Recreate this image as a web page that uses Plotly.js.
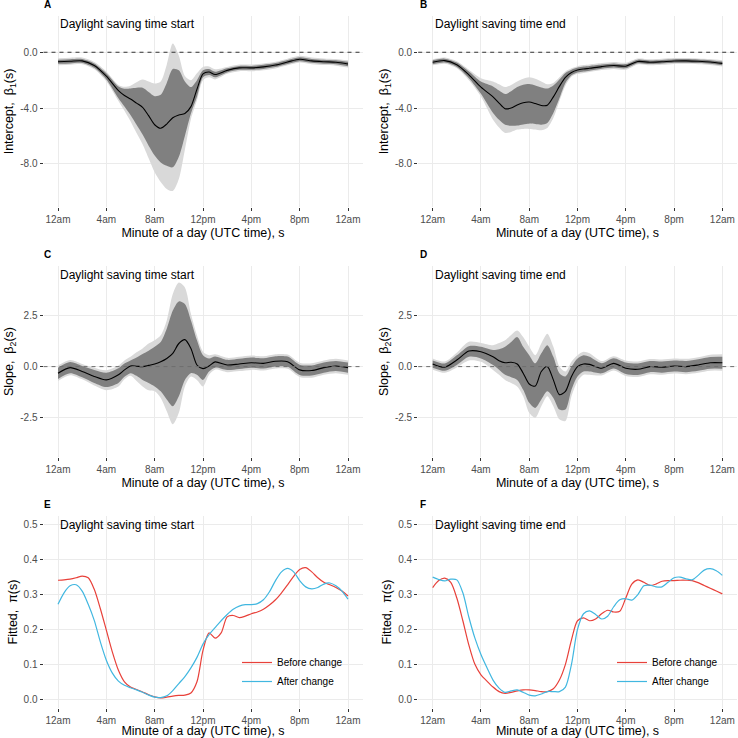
<!DOCTYPE html>
<html>
<head>
<meta charset="utf-8">
<script src="https://cdn.plot.ly/plotly-3.0.1.min.js"></script>
<style>
	html, body { margin: 0; padding: 0; background: #fff; }
	#plot { width: 738px; height: 738px; }
</style>
</head>
<body>
<div id="plot"></div>
<script>
// hour of day for the coefficient panels (A-D)
var HOURS = [0,1,2,3,4,5,5.5,6,6.5,7,7.5,8,8.5,9,9.5,10,10.5,11,11.5,12,12.5,13,14,15,16,17,18,19,20,21,22,23,24];

// A: intercept, DST start
var A_MEAN     = [-0.68,-0.65,-0.62,-0.95,-1.72,-2.75,-3.1,-3.35,-3.65,-3.95,-4.55,-5.2,-5.45,-5.15,-4.7,-4.5,-4.4,-3.9,-2.65,-1.55,-1.42,-1.6,-1.3,-1.12,-1.12,-1.05,-0.92,-0.7,-0.5,-0.62,-0.68,-0.72,-0.84];
var A_INNER_HI = [-0.53,-0.5,-0.48,-0.8,-1.5,-2.45,-2.62,-2.6,-2.55,-2.55,-2.85,-3.15,-3.05,-2.2,-1.2,-1.3,-2.1,-2.5,-2.0,-1.3,-1.2,-1.4,-1.15,-0.98,-0.98,-0.9,-0.78,-0.56,-0.36,-0.48,-0.54,-0.58,-0.68];
var A_INNER_LO = [-0.83,-0.8,-0.77,-1.12,-1.95,-3.3,-3.9,-4.5,-5.2,-5.9,-6.7,-7.4,-7.9,-8.15,-8.25,-7.5,-6.0,-4.4,-3.2,-1.8,-1.64,-1.8,-1.45,-1.26,-1.26,-1.2,-1.06,-0.84,-0.64,-0.76,-0.82,-0.86,-1.0];
var A_OUTER_HI = [-0.43,-0.4,-0.38,-0.7,-1.38,-2.35,-2.48,-2.4,-2.15,-1.95,-2.1,-2.25,-2.1,-0.9,0.62,-0.25,-1.7,-2.0,-1.5,-1.05,-1.02,-1.22,-1.05,-0.88,-0.88,-0.8,-0.68,-0.46,-0.26,-0.38,-0.44,-0.48,-0.58];
var A_OUTER_LO = [-0.93,-0.9,-0.86,-1.22,-2.08,-3.5,-4.2,-4.95,-5.8,-6.6,-7.6,-8.6,-9.3,-9.8,-9.95,-9.1,-7.0,-4.8,-3.45,-2.0,-1.8,-1.95,-1.55,-1.36,-1.36,-1.3,-1.16,-0.94,-0.74,-0.86,-0.92,-0.96,-1.1];

// B: intercept, DST end
var B_MEAN     = [-0.72,-0.6,-0.9,-1.62,-2.5,-3.2,-3.65,-4.05,-4.0,-3.78,-3.62,-3.57,-3.68,-3.82,-3.8,-3.2,-2.45,-1.8,-1.46,-1.28,-1.2,-1.15,-1.03,-0.95,-1.0,-0.66,-0.72,-0.68,-0.63,-0.62,-0.65,-0.7,-0.8];
var B_INNER_HI = [-0.58,-0.46,-0.74,-1.38,-2.1,-2.45,-2.75,-3.0,-2.8,-2.5,-2.33,-2.28,-2.38,-2.52,-2.6,-2.38,-1.95,-1.48,-1.25,-1.1,-1.02,-0.98,-0.88,-0.8,-0.85,-0.53,-0.59,-0.55,-0.5,-0.49,-0.52,-0.57,-0.67];
var B_INNER_LO = [-0.86,-0.74,-1.06,-1.86,-2.98,-4.36,-4.85,-5.2,-5.27,-5.26,-5.18,-5.12,-5.15,-5.2,-5.07,-4.36,-3.3,-2.2,-1.65,-1.45,-1.38,-1.32,-1.18,-1.1,-1.15,-0.79,-0.85,-0.81,-0.76,-0.75,-0.78,-0.83,-0.93];
var B_OUTER_HI = [-0.5,-0.38,-0.65,-1.25,-1.86,-2.1,-2.3,-2.5,-2.35,-2.1,-1.9,-1.8,-1.9,-2.1,-2.3,-2.2,-1.8,-1.38,-1.15,-1.0,-0.92,-0.88,-0.78,-0.7,-0.75,-0.45,-0.5,-0.47,-0.42,-0.41,-0.44,-0.49,-0.58];
var B_OUTER_LO = [-0.94,-0.82,-1.15,-2.0,-3.17,-4.84,-5.4,-5.79,-5.72,-5.55,-5.5,-5.5,-5.55,-5.6,-5.43,-4.72,-3.52,-2.4,-1.76,-1.55,-1.48,-1.42,-1.28,-1.2,-1.25,-0.87,-0.94,-0.9,-0.84,-0.83,-0.86,-0.91,-1.02];

// C: slope, DST start
var C_MEAN     = [-0.32,-0.05,-0.24,-0.48,-0.65,-0.4,-0.16,0.03,0.02,0.0,0.06,0.13,0.24,0.4,0.65,1.13,1.32,0.89,0.08,-0.1,0.03,0.23,0.08,0.13,0.19,0.16,0.26,0.24,-0.16,-0.19,-0.05,0.03,-0.05];
var C_INNER_HI = [-0.05,0.22,0.03,-0.16,-0.3,-0.08,0.15,0.3,0.45,0.62,0.78,0.97,1.2,1.85,2.74,3.19,3.06,2.26,1.29,0.56,0.4,0.5,0.33,0.38,0.44,0.41,0.51,0.49,0.09,0.06,0.2,0.28,0.2];
var C_INNER_LO = [-0.6,-0.32,-0.52,-0.8,-1.0,-0.8,-0.5,-0.32,-0.45,-0.65,-0.8,-0.97,-1.21,-1.61,-1.94,-1.45,-0.65,-0.32,-0.4,-0.65,-0.24,-0.05,-0.17,-0.12,-0.06,-0.09,0.01,-0.01,-0.41,-0.44,-0.3,-0.22,-0.3];
var C_OUTER_HI = [0.05,0.32,0.13,-0.05,-0.18,0.05,0.3,0.48,0.7,0.89,1.13,1.29,1.53,2.26,3.55,4.11,3.87,2.58,1.53,0.73,0.56,0.6,0.43,0.48,0.54,0.51,0.61,0.59,0.19,0.16,0.3,0.38,0.3];
var C_OUTER_LO = [-0.7,-0.42,-0.62,-0.92,-1.15,-0.97,-0.62,-0.45,-0.7,-0.97,-1.16,-1.21,-1.53,-2.18,-2.82,-2.26,-0.97,-0.48,-0.65,-0.97,-0.4,-0.15,-0.27,-0.22,-0.16,-0.19,-0.09,-0.11,-0.51,-0.54,-0.4,-0.32,-0.4];

// D: slope, DST end
var D_MEAN     = [0.13,-0.03,0.32,0.76,0.73,0.48,0.29,0.19,0.21,0.13,-0.32,-0.85,-0.95,-0.24,0.0,-0.65,-1.37,-1.21,-0.48,0.0,0.13,0.11,-0.08,0.16,-0.08,-0.13,0.0,-0.03,0.03,0.0,0.08,0.19,0.19];
var D_INNER_HI = [0.3,0.15,0.55,1.0,0.97,0.81,0.85,0.97,1.2,1.45,0.97,0.56,0.16,0.65,1.05,0.48,-0.32,-0.48,0.0,0.4,0.56,0.48,0.17,0.41,0.2,0.15,0.27,0.25,0.3,0.28,0.36,0.47,0.48];
var D_INNER_LO = [-0.05,-0.2,0.08,0.48,0.4,0.08,-0.15,-0.4,-0.52,-0.65,-1.13,-1.77,-2.02,-1.61,-1.21,-1.53,-2.1,-2.1,-1.13,-0.48,-0.24,-0.24,-0.33,-0.09,-0.36,-0.41,-0.27,-0.3,-0.24,-0.27,-0.2,-0.1,-0.1];
var D_OUTER_HI = [0.4,0.25,0.68,1.21,1.16,1.05,1.15,1.29,1.55,1.77,1.45,0.97,0.56,1.13,1.61,0.97,0.0,-0.24,0.24,0.56,0.73,0.65,0.27,0.51,0.3,0.25,0.37,0.35,0.4,0.38,0.46,0.58,0.6];
var D_OUTER_LO = [-0.15,-0.3,-0.04,0.3,0.24,-0.16,-0.4,-0.65,-0.8,-0.97,-1.45,-2.26,-2.5,-1.94,-1.45,-1.94,-2.58,-2.66,-1.45,-0.73,-0.4,-0.4,-0.43,-0.19,-0.46,-0.51,-0.37,-0.4,-0.34,-0.37,-0.3,-0.2,-0.2];

// fitted probabilities (E, F), every half hour
var FIT_HOURS = [0,0.5,1,1.5,2,2.5,3,3.5,4,4.5,5,5.5,6,6.5,7,7.5,8,8.5,9,9.5,10,10.5,11,11.5,12,12.5,13,13.5,14,14.5,15,15.5,16,16.5,17,17.5,18,18.5,19,19.5,20,20.5,21,21.5,22,22.5,23,23.5,24];
var E_BEFORE = [0.341,0.342,0.344,0.348,0.353,0.348,0.315,0.26,0.198,0.135,0.083,0.05,0.035,0.028,0.021,0.013,0.007,0.004,0.006,0.009,0.011,0.012,0.018,0.05,0.14,0.19,0.175,0.19,0.236,0.24,0.234,0.238,0.245,0.25,0.258,0.27,0.285,0.305,0.328,0.352,0.372,0.377,0.365,0.348,0.335,0.328,0.32,0.31,0.296];
var E_AFTER  = [0.272,0.305,0.325,0.328,0.31,0.272,0.226,0.165,0.112,0.075,0.052,0.04,0.033,0.027,0.02,0.012,0.006,0.005,0.01,0.025,0.045,0.065,0.09,0.12,0.158,0.185,0.205,0.225,0.243,0.258,0.267,0.271,0.271,0.274,0.285,0.308,0.34,0.365,0.375,0.365,0.34,0.322,0.316,0.32,0.33,0.333,0.325,0.31,0.287];
var F_BEFORE = [0.32,0.34,0.347,0.335,0.29,0.225,0.155,0.1,0.07,0.052,0.035,0.022,0.017,0.02,0.024,0.027,0.027,0.025,0.022,0.022,0.03,0.055,0.1,0.17,0.225,0.233,0.225,0.23,0.245,0.255,0.25,0.252,0.29,0.33,0.342,0.335,0.326,0.33,0.338,0.34,0.34,0.341,0.341,0.34,0.334,0.326,0.318,0.31,0.302];
var F_AFTER  = [0.35,0.343,0.339,0.344,0.342,0.305,0.235,0.175,0.128,0.09,0.055,0.032,0.02,0.024,0.027,0.02,0.012,0.01,0.015,0.022,0.022,0.022,0.035,0.1,0.2,0.245,0.253,0.243,0.23,0.238,0.265,0.285,0.288,0.284,0.3,0.325,0.327,0.322,0.322,0.335,0.348,0.35,0.345,0.342,0.355,0.37,0.374,0.368,0.355];

var X_TICKS = [0,4,8,12,16,20,24];
var X_LABELS = ['12am','4am','8am','12pm','4pm','8pm','12am'];
var Y1_TICKS = [0,-4,-8];
var Y1_LABELS = ['0.0','-4.0','-8.0'];
var Y2_TICKS = [2.5,0,-2.5];
var Y2_LABELS = ['2.5','0.0','-2.5'];
var Y3_TICKS = [0,0.1,0.2,0.3,0.4,0.5];
var Y3_LABELS = ['0.0','0.1','0.2','0.3','0.4','0.5'];

var PANEL_TITLES = ['Daylight saving time start','Daylight saving time end'];
var LEGEND_NAMES = ['Before change','After change'];

var FONT = 'Liberation Sans, Arial, sans-serif';
var LIGHT = '#D9D9D9';
var DARK = '#808080';
var RED = '#E8413A';
var BLUE = '#41B7E0';

var W = 738, H = 738;
var LEFT_DOM = [43.5/W, 362.5/W];
var RIGHT_DOM = [418.2/W, 736.8/W];
var ROW_DOM = [
	[1 - 207/H, 1 - 16/H],
	[1 - 457/H, 1 - 266/H],
	[1 - 708/H, 1 - 516/H]
];
var ROW_RANGE = [[-11.1, 2.6], [-4.42, 4.92], [-0.025, 0.525]];

function spline(x, y, xa, ya, extra){
	var t = {
		x: x, y: y, xaxis: xa, yaxis: ya,
		type: 'scatter', mode: 'lines',
		line: {shape: 'spline', smoothing: 0.8, width: 0},
		hoverinfo: 'skip', showlegend: false
	};
	for(var k in extra) t[k] = extra[k];
	return t;
}

function bandTraces(n, mean, ihi, ilo, ohi, olo){
	var xa = 'x' + (n === 1 ? '' : n);
	var ya = 'y' + (n === 1 ? '' : n);
	return [
		spline(HOURS, olo, xa, ya, {}),
		spline(HOURS, ohi, xa, ya, {fill: 'tonexty', fillcolor: LIGHT}),
		spline(HOURS, ilo, xa, ya, {}),
		spline(HOURS, ihi, xa, ya, {fill: 'tonexty', fillcolor: DARK}),
		spline(HOURS, mean, xa, ya, {line: {shape: 'spline', smoothing: 0.8, width: 1.1, color: '#000'}})
	];
}

function fitTraces(n, before, after, legendId){
	var xa = 'x' + n, ya = 'y' + n;
	return [
		spline(FIT_HOURS, before, xa, ya, {name: LEGEND_NAMES[0], showlegend: true, legend: legendId,
			line: {shape: 'spline', smoothing: 0.8, width: 1.2, color: RED}}),
		spline(FIT_HOURS, after, xa, ya, {name: LEGEND_NAMES[1], showlegend: true, legend: legendId,
			line: {shape: 'spline', smoothing: 0.8, width: 1.2, color: BLUE}})
	];
}

function xAxis(domain, anchor){
	return {
		domain: domain, anchor: anchor,
		range: [-1.2, 25.2], tickvals: X_TICKS, ticktext: X_LABELS,
		showgrid: true, gridcolor: '#EBEBEB', gridwidth: 1, zeroline: false, showline: false,
		ticks: 'outside', ticklen: 3, tickcolor: '#333', tickwidth: 1,
		tickfont: {size: 10, color: '#4D4D4D', family: FONT},
		title: {text: 'Minute of a day (UTC time), s', font: {size: 12.5, color: '#000', family: FONT}, standoff: 4},
		fixedrange: true
	};
}

function yAxis(domain, anchor, range, vals, labels, title){
	return {
		domain: domain, anchor: anchor, range: range,
		tickvals: vals, ticktext: labels,
		showgrid: true, gridcolor: '#EBEBEB', gridwidth: 1, zeroline: false, showline: false,
		ticks: 'outside', ticklen: 3, tickcolor: '#333', tickwidth: 1,
		tickfont: {size: 10, color: '#4D4D4D', family: FONT},
		title: {text: title, font: {size: 12.5, color: '#000', family: FONT}, standoff: 3},
		fixedrange: true
	};
}

function zeroLine(n, color){
	var s = n === 1 ? '' : n;
	var dom = n % 2 === 1 ? LEFT_DOM : RIGHT_DOM;
	return {
		type: 'line', xref: 'paper', yref: 'y' + s,
		x0: dom[0], x1: dom[1], y0: 0, y1: 0, layer: 'above',
		line: {color: color, width: 1, dash: '4px,4px'}
	};
}

var data = []
	.concat(bandTraces(1, A_MEAN, A_INNER_HI, A_INNER_LO, A_OUTER_HI, A_OUTER_LO))
	.concat(bandTraces(2, B_MEAN, B_INNER_HI, B_INNER_LO, B_OUTER_HI, B_OUTER_LO))
	.concat(bandTraces(3, C_MEAN, C_INNER_HI, C_INNER_LO, C_OUTER_HI, C_OUTER_LO))
	.concat(bandTraces(4, D_MEAN, D_INNER_HI, D_INNER_LO, D_OUTER_HI, D_OUTER_LO))
	.concat(fitTraces(5, E_BEFORE, E_AFTER, 'legend'))
	.concat(fitTraces(6, F_BEFORE, F_AFTER, 'legend2'));

var YTITLES = ['Intercept,  β<sub>1</sub>(s)', 'Slope,  β<sub>2</sub>(s)', 'Fitted,  π(s)'];
var YTICKS = [[Y1_TICKS, Y1_LABELS], [Y2_TICKS, Y2_LABELS], [Y3_TICKS, Y3_LABELS]];
var TITLE_Y = [2, 4.5, 0.5];
var LETTERS = ['A','B','C','D','E','F'];
var LETTER_Y = [4.5, 255, 504.3];

var layout = {
	width: W, height: H,
	margin: {l: 0, r: 0, t: 0, b: 0},
	paper_bgcolor: '#fff', plot_bgcolor: '#fff',
	font: {family: FONT, color: '#000'},
	shapes: [
		zeroLine(1, '#333'),
		zeroLine(2, '#333'),
		zeroLine(3, '#6E6E6E'),
		zeroLine(4, '#6E6E6E')
	],
	annotations: [],
	legend: {
		x: 237/W, y: 1 - 648/H, xanchor: 'left', yanchor: 'top', traceorder: 'normal',
		tracegroupgap: 0, bgcolor: 'rgba(0,0,0,0)', itemwidth: 30, font: {size: 10, family: FONT, color: '#000'}
	},
	legend2: {
		x: 612/W, y: 1 - 648/H, xanchor: 'left', yanchor: 'top', traceorder: 'normal',
		tracegroupgap: 0, bgcolor: 'rgba(0,0,0,0)', itemwidth: 30, font: {size: 10, family: FONT, color: '#000'}
	}
};

for(var i = 0; i < 6; i++){
	var n = i + 1;
	var row = Math.floor(i / 2);
	var isLeft = i % 2 === 0;
	var s = n === 1 ? '' : n;
	layout['xaxis' + s] = xAxis(isLeft ? LEFT_DOM : RIGHT_DOM, 'y' + s);
	layout['yaxis' + s] = yAxis(ROW_DOM[row], 'x' + s, ROW_RANGE[row], YTICKS[row][0], YTICKS[row][1], YTITLES[row]);
	layout.annotations.push({
		xref: 'x' + s, yref: 'y' + s, x: 0, y: TITLE_Y[row],
		xanchor: 'left', yanchor: 'middle', showarrow: false,
		text: PANEL_TITLES[isLeft ? 0 : 1], font: {size: 12, color: '#000', family: FONT}
	});
	layout.annotations.push({
		xref: 'paper', yref: 'paper', x: (isLeft ? 42 : 418.5) / W, y: 1 - LETTER_Y[row] / H,
		xanchor: 'left', yanchor: 'middle', showarrow: false,
		text: '<b>' + LETTERS[i] + '</b>', font: {size: 10, color: '#000', family: FONT}
	});
}

Plotly.newPlot('plot', data, layout, {displayModeBar: false, staticPlot: true});
</script>
</body>
</html>
